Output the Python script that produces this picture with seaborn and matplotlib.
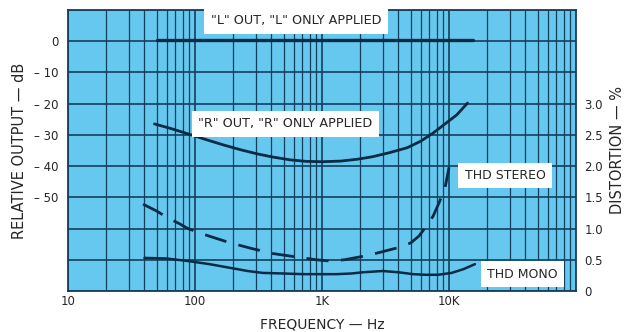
import numpy as np
import pandas as pd
import matplotlib
matplotlib.use("Agg")
import matplotlib.pyplot as plt
import seaborn as sns
from matplotlib.ticker import FixedLocator, NullFormatter, LogLocator

# Channel separation / distortion test data
l_freq = [50, 100, 300, 1000, 3000, 10000, 15500]
l_level = [0.3, 0.3, 0.3, 0.3, 0.3, 0.3, 0.3]

r_freq = [48, 65, 90, 124, 170, 230, 310, 410, 560, 760, 1000, 1400, 1900, 2500,
          3400, 4700, 6000, 7500, 9300, 11500, 14000]
r_level = [-26.5, -28.0, -29.8, -31.6, -33.3, -34.8, -36.1, -37.1, -38.0, -38.5, -38.6,
           -38.4, -37.8, -37.0, -35.7, -34.1, -32.0, -29.4, -26.5, -23.6, -19.8]

stereo_freq = [39, 50, 60, 75, 88, 120, 190, 280, 410, 560, 710, 900, 1150, 1500,
               2300, 3000, 3900, 5000, 5800, 6700, 7500, 8300, 9300, 10000]
stereo_pct = [1.39, 1.28, 1.18, 1.08, 1.0, 0.9, 0.77, 0.68, 0.6, 0.56, 0.53, 0.5, 0.48,
              0.5, 0.57, 0.63, 0.69, 0.77, 0.88, 1.05, 1.2, 1.4, 1.65, 1.98]

mono_freq = [40, 60, 88, 130, 190, 260, 340, 500, 710, 1000, 1300, 1700, 2100, 3000,
             4000, 5200, 6500, 8200, 10500, 13000, 16000]
mono_pct = [0.53, 0.52, 0.48, 0.43, 0.37, 0.32, 0.29, 0.28, 0.27, 0.27, 0.27, 0.28,
            0.30, 0.32, 0.30, 0.27, 0.26, 0.26, 0.29, 0.35, 0.43]

db_ticks = [0, -10, -20, -30, -40, -50]
db_labels = ["0", "\u2013 10", "\u2013 20", "\u2013 30", "\u2013 40", "\u2013 50"]
pct_ticks = [0, 0.5, 1.0, 1.5, 2.0, 2.5, 3.0]
pct_labels = ["0", "0.5", "1.0", "1.5", "2.0", "2.5", "3.0"]
freq_ticks = [10, 100, 1000, 10000]
freq_labels = ["10", "100", "1K", "10K"]

blue = "#66c8ef"
ink = "#143f5c"
line_ink = "#0b2a45"
text_ink = "#262626"
sns.set_style("white", {"axes.facecolor": blue})
plt.rcParams["font.family"] = ["DejaVu Sans"]

fig, ax = plt.subplots(figsize=(6.33, 3.32), dpi=100)
fig.subplots_adjust(left=0.1074, right=0.910, top=0.970, bottom=0.1235)

ax.set_xscale("log")
ax.set_xlim(10, 100000)
ax.set_ylim(-80, 10)

# log grid on frequency, 10 dB grid on level
ax.xaxis.set_major_locator(FixedLocator(freq_ticks))
ax.xaxis.set_minor_locator(LogLocator(base=10, subs=np.arange(2, 10)))
ax.xaxis.set_minor_formatter(NullFormatter())
ax.set_xticklabels(freq_labels)
grid_levels = np.arange(-80, 11, 10)
ax.set_yticks(grid_levels)
ax.set_yticklabels([db_labels[db_ticks.index(v)] if v in db_ticks else ""
                    for v in grid_levels])
ax.grid(True, which="major", axis="both", color=ink, lw=1.2)
ax.grid(True, which="minor", axis="x", color=ink, lw=0.9)
ax.set_axisbelow(True)
ax.tick_params(axis="both", which="both", length=0, labelsize=8.5, colors=text_ink)
ax.tick_params(axis="y", pad=7)
ax.tick_params(axis="x", pad=3)
for s in ax.spines.values():
    s.set_color(ink)
    s.set_linewidth(1.3)

# output level curves
sns.lineplot(data=pd.DataFrame({"f": l_freq, "v": l_level}), x="f", y="v", ax=ax,
             color=line_ink, lw=2.4, sort=False)
sns.lineplot(data=pd.DataFrame({"f": r_freq, "v": r_level}), x="f", y="v", ax=ax,
             color=line_ink, lw=2.0, sort=False)

# distortion curves on the right-hand scale
ax2 = ax.twinx()
ax2.set_ylim(0, 4.5)
sns.lineplot(data=pd.DataFrame({"f": stereo_freq, "v": stereo_pct}), x="f", y="v",
             ax=ax2, color=line_ink, lw=2.0, sort=False, linestyle=(0, (8, 4.5)))
sns.lineplot(data=pd.DataFrame({"f": mono_freq, "v": mono_pct}), x="f", y="v",
             ax=ax2, color=line_ink, lw=1.8, sort=False)
ax2.set_yticks(pct_ticks)
ax2.set_yticklabels(pct_labels)
ax2.tick_params(axis="y", length=0, labelsize=8.5, colors=text_ink, pad=6)
ax2.grid(False)
for s in ax2.spines.values():
    s.set_visible(False)

ax.set_xlabel("FREQUENCY \u2014 Hz", fontsize=10, color=text_ink, labelpad=7)
ax.set_ylabel("RELATIVE OUTPUT \u2014 dB", fontsize=10.5, color=text_ink, labelpad=5)
ax2.set_ylabel("DISTORTION \u2014 %", fontsize=10.5, color=text_ink, labelpad=5, rotation=90)
ax2.set_xlabel("")

box = dict(boxstyle="square,pad=0.5", fc="white", ec="none")
ax.text(624, 6.5, "\"L\" OUT, \"L\" ONLY APPLIED", fontsize=9.2, color=text_ink,
        ha="center", va="center", bbox=box, zorder=5, clip_on=False)
ax.text(512, -26.4, "\"R\" OUT, \"R\" ONLY APPLIED", fontsize=9.2, color=text_ink,
        ha="center", va="center", bbox=box, zorder=5)
ax2.text(27600, 1.85, "THD STEREO", fontsize=9.0, color=text_ink,
         ha="center", va="center", bbox=box, zorder=5)
ax2.text(37600, 0.27, "THD MONO", fontsize=9.0, color=text_ink,
         ha="center", va="center", bbox=box, zorder=5)

fig.savefig("out.png", dpi=100, facecolor="white")
